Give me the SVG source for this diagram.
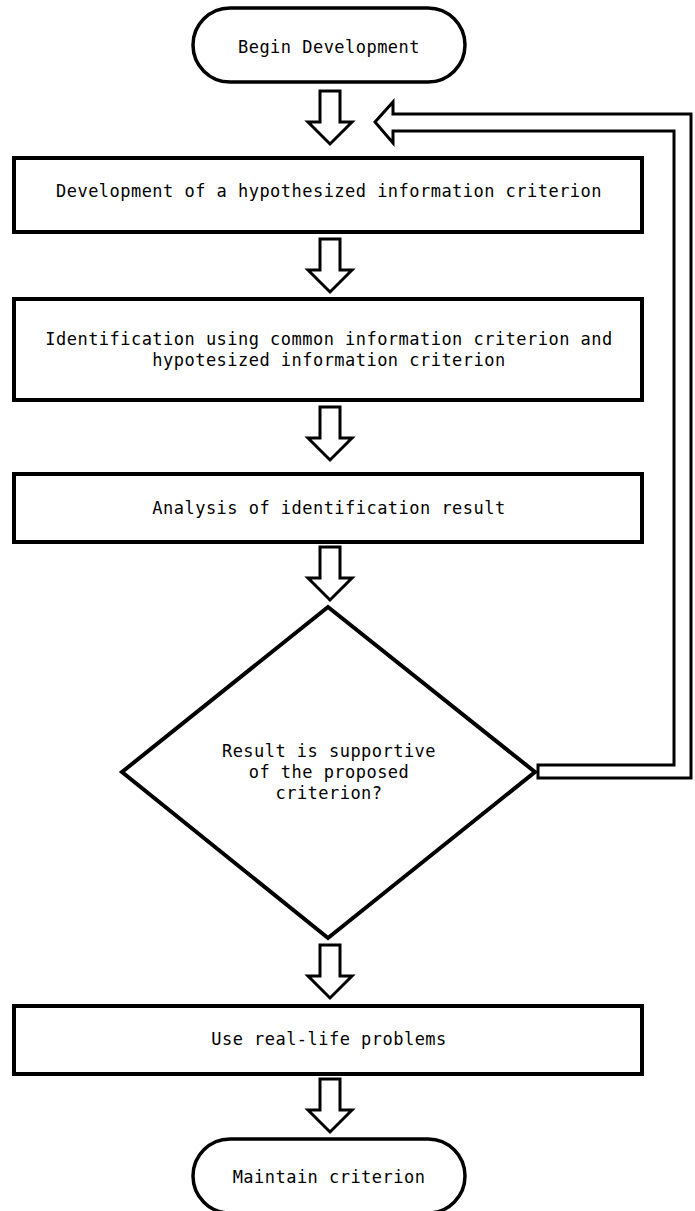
<svg xmlns="http://www.w3.org/2000/svg" width="695" height="1211" viewBox="0 0 695 1211">
<style>
.shape{fill:#fff;stroke:#000;stroke-width:4}
.term{fill:#fff;stroke:#000;stroke-width:3.5}
.arrow{fill:#fff;stroke:#000;stroke-width:3;stroke-linejoin:miter}
text{font-family:"DejaVu Sans Mono","Liberation Mono",monospace;font-size:17px;letter-spacing:0.47px;text-anchor:middle;fill:#000}
</style>
<defs>
<path id="down" d="M-10,0 H10 V31 H22 L0,53 L-22,31 H-10 Z"/>
</defs>
<rect width="695" height="1211" fill="#fff"/>
<g id="connectors">
<use href="#down" class="arrow" x="330" y="91"/>
<use href="#down" class="arrow" x="330" y="239"/>
<use href="#down" class="arrow" x="330" y="407"/>
<use href="#down" class="arrow" x="330" y="547"/>
<use href="#down" class="arrow" x="330" y="945"/>
<use href="#down" class="arrow" x="330" y="1079"/>
<polygon class="arrow" points="375,122 393,102 393,114 691,114 691,778 538,778 538,765 674,765 674,131 393,131 393,143"/>
</g>
<g id="begin">
<rect class="term" x="193" y="8" width="272" height="74" rx="37" ry="37"/>
<text x="329" y="53">Begin Development</text>
</g>
<g id="develop">
<rect class="shape" x="14" y="158" width="628" height="74"/>
<text x="329" y="197">Development of a hypothesized information criterion</text>
</g>
<g id="identify">
<rect class="shape" x="14" y="299" width="628" height="101"/>
<text x="329" y="345">Identification using common information criterion and</text>
<text x="329" y="366">hypotesized information criterion</text>
</g>
<g id="analysis">
<rect class="shape" x="14" y="474" width="628" height="68"/>
<text x="329" y="514">Analysis of identification result</text>
</g>
<g id="decision">
<polygon class="shape" points="328,607 535,772 328,938 122,772"/>
<text x="329" y="757">Result is supportive</text>
<text x="329" y="778">of the proposed</text>
<text x="329" y="799">criterion?</text>
</g>
<g id="reallife">
<rect class="shape" x="14" y="1006" width="628" height="68"/>
<text x="329" y="1045">Use real-life problems</text>
</g>
<g id="maintain">
<rect class="term" x="193" y="1139" width="272" height="74" rx="37" ry="37"/>
<text x="329" y="1183">Maintain criterion</text>
</g>
</svg>
